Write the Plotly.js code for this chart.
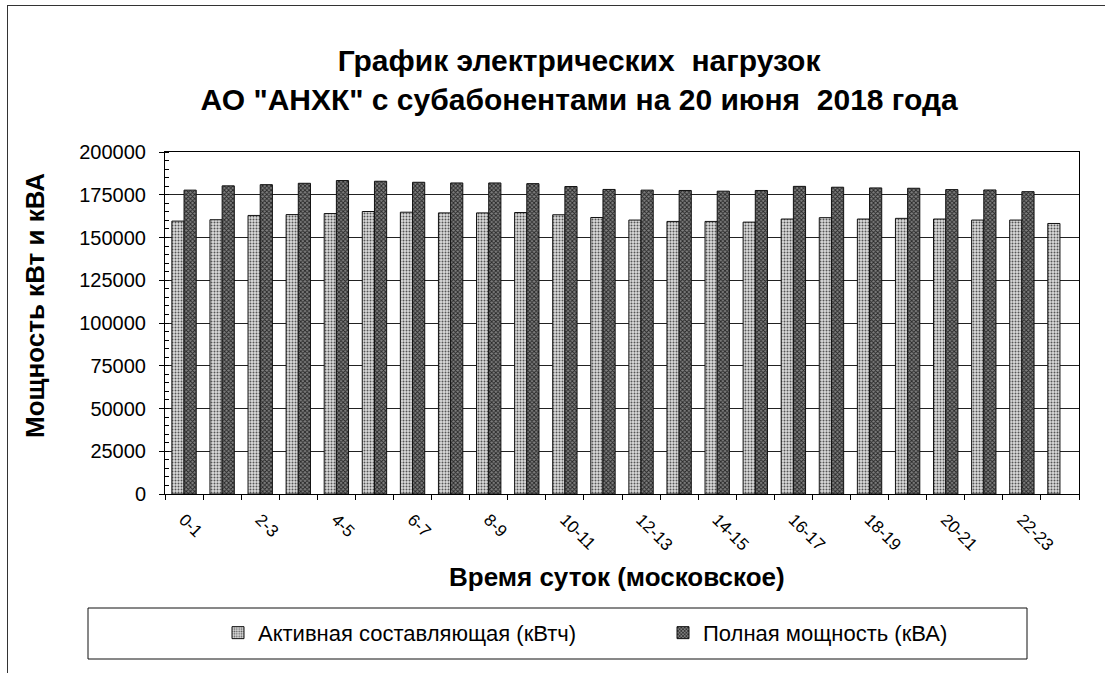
<!DOCTYPE html>
<html>
<head>
<meta charset="utf-8">
<script src="https://cdn.plot.ly/plotly-3.0.1.min.js"></script>
<style>
  html, body { margin: 0; padding: 0; background: #fff; overflow: hidden; }
  #chart { width: 1105px; height: 673px; }
  #frame { position: absolute; left: 7px; top: 5px; width: 1200px; height: 800px;
           border: 1px solid #333; pointer-events: none; }
</style>
</head>
<body>
<div id="chart"></div>
<div id="frame"></div>
<script>
// Hour intervals (Moscow time)
const categories = ["0-1","1-2","2-3","3-4","4-5","5-6","6-7","7-8","8-9","9-10","10-11","11-12",
                    "12-13","13-14","14-15","15-16","16-17","17-18","18-19","19-20","20-21","21-22","22-23","23-24"];
// Active component (kWh)
const activePower = [159600,160400,162900,163400,164000,165200,164800,164400,164400,164600,163300,161700,
                     160200,159400,159400,159000,160800,161600,160800,161200,160800,160200,160200,158200];
// Full power (kVA)
const fullPower = [177700,180200,180900,181700,183300,182900,182300,181900,181900,181500,179800,178100,
                   177700,177500,177100,177500,179900,179400,179000,178800,178000,177800,176800,null];
const seriesNames = ["Активная составляющая (кВтч)", "Полная мощность (кВА)"];
const titleLines = ["График электрических  нагрузок", "АО \"АНХК\" с субабонентами на 20 июня  2018 года"];
const xTitle = "Время суток (московское)";
const yTitle = "Мощность кВт и кВА";
const yTicks = [0,25000,50000,75000,100000,125000,150000,175000,200000];

const xIdx = categories.map((c, i) => i);
const shownTickIdx = xIdx.filter(i => i % 2 === 0);
const shownTickText = shownTickIdx.map(i => categories[i]);

const FONT = "Liberation Sans, Arial, sans-serif";

const traces = [
  {
    type: "bar", name: seriesNames[0], x: xIdx, y: activePower, legend: "legend",
    customdata: categories,
    marker: { color: "#d4d4d4", line: { color: "#111", width: 1 },
              pattern: { shape: ".", fgcolor: "#555", bgcolor: "#dcdcdc", size: 3, solidity: 0.35 } }
  },
  {
    type: "bar", name: seriesNames[1], x: xIdx, y: fullPower, legend: "legend2",
    customdata: categories,
    marker: { color: "#555", line: { color: "#111", width: 1 },
              pattern: { shape: "x", fgcolor: "#262626", bgcolor: "#808080", size: 3, solidity: 0.5 } }
  }
];

const legendCommon = {
  orientation: "h", xanchor: "left", yanchor: "middle",
  xref: "paper", yref: "paper", y: -0.406,
  font: { family: FONT, size: 22, color: "#000" },
  bgcolor: "rgba(0,0,0,0)", borderwidth: 0, itemclick: false, itemwidth: 30
};

const layout = {
  width: 1105, height: 673,
  margin: { l: 165, r: 26, t: 152, b: 179, autoexpand: false },
  paper_bgcolor: "#fff", plot_bgcolor: "#fff",
  font: { family: FONT, color: "#000", size: 16 },
  barmode: "group", bargap: 0.36, bargroupgap: 0,
  showlegend: true,
  title: {
    text: "<b>" + titleLines[0] + "<br>" + titleLines[1] + "</b>",
    font: { family: FONT, size: 30, color: "#000" },
    xref: "paper", x: 0.453, xanchor: "center",
    yref: "container", y: 0.895, yanchor: "top"
  },
  xaxis: {
    range: [-0.5, 23.5],
    tickmode: "array", tickvals: shownTickIdx, ticktext: shownTickText,
    tickangle: 45, ticks: "", tickfont: { family: FONT, size: 17 }, ticklabelstandoff: 8,
    minor: { tick0: -0.5, dtick: 1, ticks: "outside", ticklen: 5, tickcolor: "#000", showgrid: false },
    showline: true, linecolor: "#000", linewidth: 1, mirror: true, automargin: false,
    showgrid: false, zeroline: false, fixedrange: true
  },
  yaxis: {
    range: [0, 200000], tickmode: "array", tickvals: yTicks, ticktext: yTicks.map(String),
    ticks: "outside", ticklen: 5, tickcolor: "#000", ticklabelstandoff: 9,
    minor: { dtick: 5000, ticks: "inside", ticklen: 4, tickcolor: "#000", showgrid: false },
    tickfont: { family: FONT, size: 20 },
    showline: true, linecolor: "#000", linewidth: 1, mirror: true, automargin: false,
    showgrid: true, gridcolor: "#222", gridwidth: 1, zeroline: false, fixedrange: true
  },
  legend: Object.assign({}, legendCommon, { x: (218 - 165) / 914 }),
  legend2: Object.assign({}, legendCommon, { x: (663 - 165) / 914 }),
  shapes: [
    { type: "rect", xref: "paper", yref: "paper",
      x0: (88 - 165) / 914, x1: (1027 - 165) / 914, y0: (494 - 659) / 342, y1: (494 - 608) / 342,
      line: { color: "#111", width: 1 }, fillcolor: "rgba(0,0,0,0)", layer: "below" }
  ],
  annotations: [
    { text: "<b>" + xTitle + "</b>", xref: "paper", yref: "paper",
      x: (617 - 165) / 914, y: (494 - 577) / 342, xanchor: "center", yanchor: "middle",
      showarrow: false, font: { family: FONT, size: 26, color: "#000" } },
    { text: "<b>" + yTitle + "</b>", xref: "paper", yref: "paper", textangle: -90,
      x: (35 - 165) / 914, y: (494 - 306) / 342, xanchor: "center", yanchor: "middle",
      showarrow: false, font: { family: FONT, size: 26, color: "#000" } }
  ]
};

Plotly.newPlot("chart", traces, layout, { displayModeBar: false, staticPlot: true });
</script>
</body>
</html>
